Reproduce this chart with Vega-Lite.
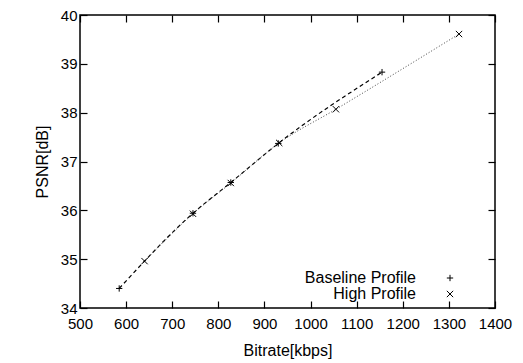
{
  "$schema": "https://vega.github.io/schema/vega-lite/v6.json",
  "width": 415,
  "height": 293,
  "autosize": "none",
  "padding": {"left": 80, "top": 15, "right": 28, "bottom": 55},
  "background": "white",
  "config": {
    "font": "Liberation Sans",
    "view": {"stroke": "black", "strokeWidth": 1.5},
    "axis": {
      "grid": false,
      "domain": false,
      "tickColor": "black",
      "tickWidth": 1.2,
      "tickSize": -7,
      "labelColor": "black",
      "labelFontSize": 15,
      "labelFlush": false,
      "labelOverlap": false,
      "titleFontSize": 16,
      "titleFontWeight": "normal",
      "titleColor": "black"
    }
  },
  "data": {
    "values": [
      {"profile": "Baseline Profile", "bitrate": 585, "psnr": 34.40},
      {"profile": "Baseline Profile", "bitrate": 745, "psnr": 35.94},
      {"profile": "Baseline Profile", "bitrate": 827, "psnr": 36.57},
      {"profile": "Baseline Profile", "bitrate": 930, "psnr": 37.37},
      {"profile": "Baseline Profile", "bitrate": 1155, "psnr": 38.83},
      {"profile": "High Profile", "bitrate": 640, "psnr": 34.96},
      {"profile": "High Profile", "bitrate": 745, "psnr": 35.93},
      {"profile": "High Profile", "bitrate": 827, "psnr": 36.56},
      {"profile": "High Profile", "bitrate": 932, "psnr": 37.38},
      {"profile": "High Profile", "bitrate": 1055, "psnr": 38.07},
      {"profile": "High Profile", "bitrate": 1322, "psnr": 39.61}
    ]
  },
  "layer": [
    {
      "transform": [{"filter": "datum.profile === 'Baseline Profile'"}],
      "mark": {"type": "line", "interpolate": "monotone", "strokeWidth": 1.2, "color": "black", "strokeDash": [4, 3]},
      "encoding": {
        "x": {"field": "bitrate", "type": "quantitative", "scale": {"domain": [500, 1400]},
          "axis": {"orient": "bottom", "values": [500,600,700,800,900,1000,1100,1200,1300,1400], "format": "d", "title": "Bitrate[kbps]", "labelPadding": 15, "titlePadding": 11}},
        "y": {"field": "psnr", "type": "quantitative", "scale": {"domain": [34, 40]},
          "axis": {"orient": "left", "values": [34,35,36,37,38,39,40], "format": "d", "title": "PSNR[dB]", "labelPadding": 10, "titlePadding": 10}}
      }
    },
    {
      "transform": [{"filter": "datum.profile === 'High Profile'"}],
      "mark": {"type": "line", "interpolate": "monotone", "strokeWidth": 1, "color": "#444444", "strokeDash": [1, 2]},
      "encoding": {
        "x": {"field": "bitrate", "type": "quantitative", "axis": null},
        "y": {"field": "psnr", "type": "quantitative", "axis": null}
      }
    },
    {
      "mark": {"type": "point", "filled": false, "color": "black", "strokeWidth": 1, "size": 40, "opacity": 1},
      "encoding": {
        "x": {"field": "bitrate", "type": "quantitative",
          "axis": {"orient": "top", "values": [500,600,700,800,900,1000,1100,1200,1300,1400], "labels": false, "title": null}},
        "y": {"field": "psnr", "type": "quantitative",
          "axis": {"orient": "right", "values": [34,35,36,37,38,39,40], "labels": false, "title": null}},
        "shape": {"field": "profile", "type": "nominal",
          "scale": {"domain": ["Baseline Profile", "High Profile"], "range": ["M-1,0L1,0M0,-1L0,1", "M-1,-1L1,1M-1,1L1,-1"]},
          "legend": {"orient": "none", "legendX": 362, "legendY": 255, "title": null, "labelFontSize": 16, "labelColor": "black", "labelAlign": "right", "labelOffset": -42, "symbolStrokeColor": "black", "symbolStrokeWidth": 1, "symbolSize": 40, "rowPadding": 0}}
      }
    }
  ],
  "resolve": {"axis": {"x": "independent", "y": "independent"}}
}
